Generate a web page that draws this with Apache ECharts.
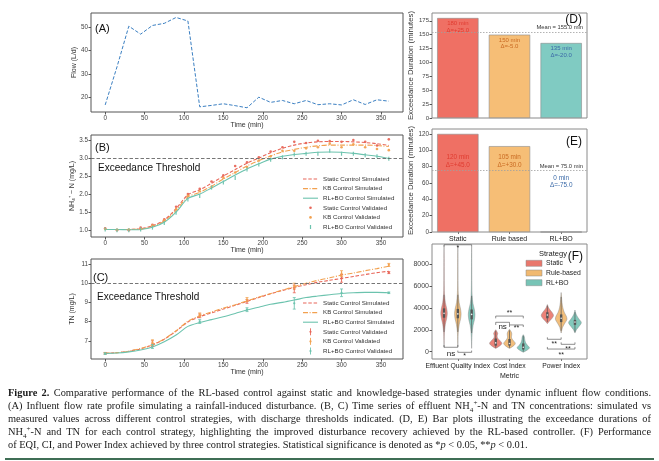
<!DOCTYPE html>
<html><head><meta charset="utf-8">
<script src="https://cdn.jsdelivr.net/npm/echarts@6/dist/echarts.min.js"></script>
<style>
html,body{margin:0;padding:0;background:#fff;}
#chart{position:absolute;left:0;top:0;width:659px;height:461px;}
#caption{position:absolute;left:8px;top:387px;width:643px;font-family:"Liberation Serif","DejaVu Serif",serif;font-size:10.4px;line-height:12.9px;color:#1a1a1a;}
#caption .ln{text-align:justify;text-align-last:justify;white-space:nowrap;height:12.9px;}
#caption .last{text-align-last:left;}
#caption sub,#caption sup{font-size:68%;line-height:0;}
#rule{position:absolute;left:5px;top:458px;width:649px;height:1.5px;background:#3f6e55;}
</style>
</head><body>
<div id="chart"></div>
<div id="caption">
<div class="ln"><b>Figure 2.</b> Comparative performance of the RL-based control against static and knowledge-based strategies under dynamic influent flow conditions.</div>
<div class="ln">(A) Influent flow rate profile simulating a rainfall-induced disturbance. (B, C) Time series of effluent NH<sub>4</sub><sup>+</sup>-N and TN concentrations: simulated vs</div>
<div class="ln">measured values across different control strategies, with discharge thresholds indicated. (D, E) Bar plots illustrating the exceedance durations of</div>
<div class="ln">NH<sub>4</sub><sup>+</sup>-N and TN for each control strategy, highlighting the improved disturbance recovery achieved by the RL-based controller. (F) Performance</div>
<div class="ln last">of EQI, CI, and Power Index achieved by three control strategies. Statistical significance is denoted as *<i>p</i> &lt; 0.05, **<i>p</i> &lt; 0.01.</div>
</div>
<div id="rule"></div>
<script>
// ---------------- DATA ----------------
const times = [0,15,30,45,60,75,90,105,120,135,150,165,180,195,210,225,240,255,270,285,300,315,330,345,360];
const timeTicks = [0,50,100,150,200,250,300,350];
const flow = [16.8,33.0,50.3,46.9,50.6,51.5,54.0,52.5,16.0,16.6,17.3,16.5,15.6,20.1,17.9,18.7,17.3,18.7,16.9,17.3,16.8,19.0,17.0,19.0,18.4];

const nhStaticSim = [1.02,1.02,1.02,1.04,1.12,1.28,1.60,1.98,2.12,2.30,2.50,2.68,2.86,3.00,3.15,3.27,3.36,3.42,3.45,3.46,3.46,3.45,3.43,3.40,3.35];
const nhKbSim     = [1.02,1.02,1.02,1.03,1.10,1.25,1.55,1.92,2.05,2.22,2.42,2.60,2.78,2.93,3.06,3.17,3.24,3.30,3.34,3.36,3.36,3.36,3.36,3.35,3.32];
const nhRlSim     = [1.02,1.02,1.01,1.02,1.08,1.22,1.50,1.88,2.00,2.17,2.35,2.53,2.70,2.84,2.97,3.05,3.10,3.13,3.16,3.17,3.16,3.13,3.09,3.05,2.99];
const nhStaticVal = [1.05,1.00,1.00,1.07,1.15,1.30,1.65,2.00,2.15,2.35,2.52,2.78,2.88,3.02,3.18,3.30,3.45,3.42,3.48,3.47,3.45,3.50,3.45,3.35,3.52];
const nhKbVal     = [1.03,1.01,1.02,1.03,1.13,1.27,1.58,1.95,2.08,2.20,2.45,2.60,2.75,2.93,3.05,3.20,3.20,3.27,3.30,3.40,3.30,3.38,3.30,3.25,3.22];
const nhRlVal     = [1.02,1.00,1.00,1.02,1.07,1.20,1.48,1.85,1.95,2.18,2.32,2.45,2.68,2.82,2.95,3.02,3.10,3.12,3.12,3.20,3.12,3.12,3.08,3.05,2.98];
const nhThreshold = 3.0;
const nhTicks = [1.0,1.5,2.0,2.5,3.0,3.5];

const tnStaticSim = [6.35,6.38,6.45,6.58,6.78,7.08,7.50,7.98,8.25,8.45,8.65,8.85,9.05,9.25,9.45,9.62,9.78,9.92,10.05,10.15,10.25,10.35,10.45,10.55,10.62];
const tnKbSim     = [6.35,6.38,6.46,6.60,6.80,7.10,7.52,8.02,8.30,8.50,8.70,8.88,9.08,9.28,9.46,9.64,9.82,10.00,10.15,10.28,10.42,10.53,10.65,10.76,10.88];
const tnRlSim     = [6.34,6.36,6.42,6.52,6.68,6.95,7.30,7.75,7.95,8.10,8.25,8.42,8.60,8.75,8.90,9.00,9.12,9.25,9.33,9.40,9.46,9.50,9.52,9.52,9.50];
const tnValTimes  = [0,60,120,180,240,300,360];
const tnStaticVal = [6.35,6.85,8.30,9.05,9.70,10.25,10.55];
const tnStaticErr = [0.04,0.15,0.10,0.10,0.20,0.20,0.05];
const tnKbVal     = [6.35,6.90,8.35,9.15,9.85,10.50,10.95];
const tnKbErr     = [0.04,0.15,0.10,0.10,0.15,0.15,0.08];
const tnRlVal     = [6.33,6.70,8.00,8.62,8.95,9.50,9.50];
const tnRlErr     = [0.04,0.10,0.10,0.10,0.30,0.20,0.04];
const tnThreshold = 10.0;
const tnTicks = [7,8,9,10,11];

const strategies = ['Static','Rule based','RL+BO'];
const nhExceed = [180,150,135];
const tnExceed = [120,105,0];
const dTicks = [0,25,50,75,100,125,150,175];
const eTicks = [0,20,40,60,80,100,120];

const metrics = ['Effluent Quality Index','Cost Index','Power Index'];
const strategyLegend = ['Static','Rule-based','RL+BO'];
const fTicks = [0,2000,4000,6000,8000];
// violin density profiles: [value, relative density]
const violinProfiles = [
  [ // Effluent Quality Index
    [[400,0],[1000,0.02],[1800,0.06],[2500,0.18],[3000,0.35],[3500,0.45],[4000,0.35],[4500,0.18],[5200,0.07],[6000,0.035],[7000,0.025],[8500,0.018],[9700,0]],
    [[450,0],[1000,0.02],[1800,0.06],[2500,0.2],[3000,0.38],[3500,0.45],[4000,0.34],[4500,0.17],[5200,0.07],[6000,0.035],[7000,0.025],[8500,0.018],[9650,0]],
    [[300,0],[900,0.02],[1700,0.07],[2400,0.2],[2900,0.38],[3400,0.46],[3900,0.36],[4400,0.18],[5100,0.07],[6000,0.035],[7000,0.025],[8500,0.018],[9600,0]]
  ],
  [ // Cost Index
    [[300,0],[500,0.5],[750,0.85],[1000,0.6],[1250,0.25],[1450,0.2],[1650,0.28],[1850,0.15],[2000,0]],
    [[300,0],[500,0.5],[750,0.8],[1000,0.55],[1250,0.28],[1500,0.3],[1700,0.3],[1900,0.15],[2050,0]],
    [[-50,0],[150,0.55],[350,0.85],[600,0.55],[850,0.3],[1100,0.2],[1350,0.15],[1550,0]]
  ],
  [ // Power Index
    [[2550,0],[2800,0.3],[3050,0.65],[3300,0.85],[3550,0.68],[3800,0.38],[4050,0.14],[4300,0]],
    [[1700,0],[2200,0.18],[2600,0.5],[2950,0.8],[3250,0.7],[3600,0.42],[4000,0.23],[4500,0.11],[5000,0.045],[5400,0]],
    [[1700,0],[2000,0.2],[2300,0.55],[2650,0.88],[2950,0.58],[3250,0.28],[3500,0.11],[3800,0]]
  ]
];
// inner box stats: [whisker low, q1, median, q3, whisker high]
const violinStats = [
  [[1800,3100,3500,3950,5200],[1800,3050,3450,3900,5200],[1700,2950,3400,3850,5100]],
  [[350,550,800,1200,1900],[350,550,750,1150,1950],[0,200,400,750,1450]],
  [[2700,3050,3350,3600,4200],[1900,2700,3050,3400,5000],[1800,2450,2700,2900,3600]]
];
// significance: [metric, hueA, hueB, lineValue, tickEndValue, labelValue, text]
const significance = [
  [0,0,2,9760,9600,9420,'*'],
  [0,0,1,400,600,-160,'ns'],
  [0,1,2,-60,100,-420,'*'],
  [1,0,2,3250,3040,3480,'**'],
  [1,0,1,2680,2440,2260,'ns'],
  [1,1,2,2440,2250,2180,'**'],
  [2,0,1,1130,1310,730,'**'],
  [2,1,2,670,850,270,'**'],
  [2,0,2,240,430,-280,'**']
];

// ---------------- STYLE ----------------
const FONT = '"Liberation Sans", Arial, sans-serif';
const lineColors = ['#E8675A','#F2A14F','#6CC3AE'];
const barColors = ['#EF7064','#F6BE76','#80CBC2'];
const violinColors = ['#E9776C','#F1B970','#77C4B6'];
const labelColors = ['#E03B30','#C96A22','#3B6AA8'];
const hueOffsets = [-0.267,0,0.267];
const simNames = ['Static Control Simulated','KB Control Simulated','RL+BO Control Simulated'];
const valNames = ['Static Control Validated','KB Control Validated','RL+BO Control Validated'];
const dashes = [[3.5,1.8],[5,1.6,1,1.6],null];

const zip = (xs, ys) => xs.map((x,i)=>[x, ys[i]]);
const mean = a => a.reduce((s,v)=>s+v,0)/a.length;

const grids = [
  {left:91, top:13, width:312, height:99},
  {left:91, top:135, width:312, height:102},
  {left:91, top:259, width:312, height:100},
  {left:432, top:13, width:155, height:105},
  {left:432, top:129, width:155, height:103},
  {left:432, top:244, width:155, height:115}
].map((g,i)=>Object.assign({show:true, borderColor: i<3 ? '#555' : '#8a8a8a', borderWidth:1, backgroundColor:'transparent'}, g));

const tickLabel = {fontSize:6.3, color:'#444', fontFamily:FONT, margin:3, hideOverlap:false};
const noLine = {show:false, onZero:false};
function timeAxis(gi){
  return {gridIndex:gi, type:'value', min:-18, max:378,
    axisLine:noLine, splitLine:{show:false},
    axisTick:{show:true, customValues:timeTicks, length:2.5, lineStyle:{color:'#555'}},
    axisLabel:Object.assign({customValues:timeTicks}, tickLabel),
    name:'Time (min)', nameLocation:'middle', nameGap:10,
    nameTextStyle:{fontSize:7, color:'#333', fontFamily:FONT}};
}
function valAxis(gi, min, max, ticks, name, gap, fmt){
  return {gridIndex:gi, type:'value', min:min, max:max,
    axisLine:noLine, splitLine:{show:false},
    axisTick:{show:true, customValues:ticks, length:2.5, lineStyle:{color:'#555'}},
    axisLabel:Object.assign({customValues:ticks, formatter:fmt||(v=>String(v))}, tickLabel),
    name:name, nameLocation:'middle', nameGap:gap, nameRotate:90,
    nameTextStyle:{fontSize:7, color:'#333', fontFamily:FONT}};
}

const xAxes = [
  timeAxis(0), timeAxis(1), timeAxis(2),
  {gridIndex:3, type:'category', data:strategies, axisLine:noLine, axisTick:{show:false}, axisLabel:{show:false}},
  {gridIndex:4, type:'category', data:strategies, axisLine:noLine,
    axisTick:{show:true, alignWithLabel:true, length:2, lineStyle:{color:'#777'}},
    axisLabel:{fontSize:7, color:'#222', fontFamily:FONT, margin:4, hideOverlap:false}},
  {gridIndex:5, type:'value', min:-0.5, max:2.5, axisLine:noLine, splitLine:{show:false},
    axisTick:{show:true, customValues:[0,1,2], length:2, lineStyle:{color:'#777'}},
    axisLabel:{customValues:[0,1,2], formatter:v=>metrics[Math.round(v)], fontSize:6.8, color:'#222', fontFamily:FONT, margin:4, hideOverlap:false, showMinLabel:true, showMaxLabel:true},
    name:'Metric', nameLocation:'middle', nameGap:14, nameTextStyle:{fontSize:7, color:'#222', fontFamily:FONT}}
];
const yAxes = [
  valAxis(0, 13.8, 55.9, [20,30,40,50], 'Flow (L/d)', 13),
  valAxis(1, 0.81, 3.64, nhTicks, 'NH\u2084\u207A \u2212 N (mg/L)', 15, v=>v.toFixed(1)),
  valAxis(2, 6.05, 11.26, tnTicks, 'TN (mg/L)', 15),
  valAxis(3, 0, 189, dTicks, 'Exceedance Duration (minutes)', 15),
  valAxis(4, 0, 126, eTicks, 'Exceedance Duration (minutes)', 17),
  valAxis(5, -670, 9830, fTicks, '', 10)
];
yAxes[3].axisLabel.fontSize = 6; yAxes[4].axisLabel.fontSize = 6.3; yAxes[5].axisLabel.fontSize = 7;
yAxes[3].nameTextStyle.fontSize = 7.8; yAxes[4].nameTextStyle.fontSize = 7.8;

const series = [];
// A
series.push({type:'line', xAxisIndex:0, yAxisIndex:0, data:zip(times, flow), symbol:'none',
  lineStyle:{color:'#3b7fc2', width:1, type:[3.5,1.8]}});
// B
const nhSims = [nhStaticSim, nhKbSim, nhRlSim], nhVals = [nhStaticVal, nhKbVal, nhRlVal];
nhSims.forEach((d,i)=>{
  const s = {type:'line', name:simNames[i], xAxisIndex:1, yAxisIndex:1, data:zip(times,d), symbol:'none', smooth:0.3,
    lineStyle:{color:lineColors[i], width:1.1, type: dashes[i] || 'solid'}, z:3};
  if(i===0) s.markLine = {silent:true, symbol:'none', label:{show:false},
    lineStyle:{color:'#666', width:0.9, type:[3.5,2]}, data:[{yAxis:nhThreshold}]};
  series.push(s);
});
nhVals.forEach((d,i)=>series.push({type:'scatter', name:valNames[i], xAxisIndex:1, yAxisIndex:1, data:zip(times,d),
  symbolSize: i===2 ? [1.2,4] : 2.6, symbol: i===2 ? 'rect' : 'circle', itemStyle:{color:lineColors[i], opacity:0.95}, z:4}));
// C
const tnSims = [tnStaticSim, tnKbSim, tnRlSim];
const tnVals = [tnStaticVal, tnKbVal, tnRlVal], tnErrs = [tnStaticErr, tnKbErr, tnRlErr];
tnSims.forEach((d,i)=>{
  const s = {type:'line', name:simNames[i], xAxisIndex:2, yAxisIndex:2, data:zip(times,d), symbol:'none', smooth:0.3,
    lineStyle:{color:lineColors[i], width:1.1, type: dashes[i] || 'solid'}, z:3};
  if(i===0) s.markLine = {silent:true, symbol:'none', label:{show:false},
    lineStyle:{color:'#666', width:0.9, type:[3.5,2]}, data:[{yAxis:tnThreshold}]};
  series.push(s);
});
tnVals.forEach((d,i)=>series.push({type:'custom', name:valNames[i], xAxisIndex:2, yAxisIndex:2,
  data: tnValTimes.map((t,k)=>[t, d[k], tnErrs[i][k]]),
  renderItem:(params, api)=>{
    const t = api.value(0), v = api.value(1), e = api.value(2);
    const lo = api.coord([t, v-e]), hi = api.coord([t, v+e]), c = api.coord([t, v]);
    const col = lineColors[i];
    return {type:'group', children:[
      {type:'line', shape:{x1:lo[0],y1:lo[1],x2:hi[0],y2:hi[1]}, style:{stroke:col, lineWidth:0.9}},
      {type:'line', shape:{x1:lo[0]-1.5,y1:lo[1],x2:lo[0]+1.5,y2:lo[1]}, style:{stroke:col, lineWidth:0.8}},
      {type:'line', shape:{x1:hi[0]-1.5,y1:hi[1],x2:hi[0]+1.5,y2:hi[1]}, style:{stroke:col, lineWidth:0.8}},
      {type:'circle', shape:{cx:c[0], cy:c[1], r:1.1}, style:{fill:col}}
    ]};
  }, z:4}));
// D & E bars
function barSeries(gi, vals, withInsideLabels){
  const m = mean(vals);
  return {type:'bar', xAxisIndex:gi, yAxisIndex:gi, barWidth:'80%',
    data: vals.map((v,i)=>({value:v, itemStyle:{color:barColors[i], borderColor:'#8c8c8c', borderWidth:0.6},
      label:{show:withInsideLabels, color:labelColors[i]}})),
    label:{position:'insideTop', distance:2, fontSize:6, lineHeight:6.6, fontFamily:FONT,
      formatter:p=>`${p.value} min\n\u0394=${p.value-m>=0?'+':''}${(p.value-m).toFixed(1)}`},
    markLine:{silent:true, symbol:'none', lineStyle:{color:'#a0a0a0', width:0.8, type:[1.5,1.5]},
      label:{show:true, position:'insideEndTop', distance:[4,1.5], fontSize:5.8, color:'#333', fontFamily:FONT,
        formatter:`Mean = ${m.toFixed(1)} min`},
      data:[{yAxis:m}]}};
}
series.push(barSeries(3, nhExceed, true));
series.push(barSeries(4, tnExceed, false));
// E labels: positioned relative to tallest bar (or mean for empty bars)
(function(){
  const m = mean(tnExceed), mx = Math.max(...tnExceed);
  series.push({type:'custom', xAxisIndex:4, yAxisIndex:4, data: tnExceed.map((v,i)=>[i, v]),
    renderItem:(params, api)=>{
      const i = api.value(0), v = api.value(1);
      const at = v > 0 ? mx*0.72 : m*0.82;
      const p = api.coord([i, at]);
      const d = v - m;
      return {type:'text', style:{text:`${v} min\n\u0394=${d>=0?'+':''}${d.toFixed(1)}`, x:p[0], y:p[1],
        textAlign:'center', textVerticalAlign:'middle', fontSize:6.4, lineHeight:7.4, fill:labelColors[i], fontFamily:FONT}};
    }, z:5});
})();
// F violins
[0,1,2].forEach(h=>{
  series.push({type:'custom', name:strategyLegend[h], xAxisIndex:5, yAxisIndex:5,
    data: metrics.map((m,c)=>[c, h]),
    renderItem:(params, api)=>{
      const c = api.value(0), hh = api.value(1);
      const prof = violinProfiles[c][hh], st = violinStats[c][hh];
      const xc = c + hueOffsets[hh], W = 0.14;
      const right = prof.map(p=>api.coord([xc + p[1]*W, p[0]]));
      const left = prof.slice().reverse().map(p=>api.coord([xc - p[1]*W, p[0]]));
      const w0 = api.coord([xc, st[0]]), q1 = api.coord([xc, st[1]]), md = api.coord([xc, st[2]]),
            q3 = api.coord([xc, st[3]]), w1 = api.coord([xc, st[4]]);
      return {type:'group', children:[
        {type:'polygon', shape:{points:right.concat(left), smooth:0.3},
          style:{fill:violinColors[hh], stroke:'#8a8a8a', lineWidth:0.5, opacity:0.92}},
        {type:'line', shape:{x1:w0[0],y1:w0[1],x2:w1[0],y2:w1[1]}, style:{stroke:'#555', lineWidth:0.7}},
        {type:'rect', shape:{x:q1[0]-1.2, y:q3[1], width:2.4, height:q1[1]-q3[1]}, style:{fill:'#555'}},
        {type:'circle', shape:{cx:md[0], cy:md[1], r:0.8}, style:{fill:'#eee'}}
      ]};
    }, z:3});
});
// F significance brackets
series.push({type:'custom', xAxisIndex:5, yAxisIndex:5, data: significance.map((s,i)=>[i]),
  renderItem:(params, api)=>{
    const s = significance[api.value(0)];
    const xa = s[0] + hueOffsets[s[1]], xb = s[0] + hueOffsets[s[2]];
    const a0 = api.coord([xa, s[4]]), a1 = api.coord([xa, s[3]]), b1 = api.coord([xb, s[3]]), b0 = api.coord([xb, s[4]]);
    const t = api.coord([(xa+xb)/2, s[5]]);
    return {type:'group', children:[
      {type:'polyline', shape:{points:[a0,a1,b1,b0]}, style:{stroke:'#444', lineWidth:0.6, fill:null}},
      {type:'text', style:{text:s[6], x:t[0], y:t[1], textAlign:'center', textVerticalAlign:'middle',
        fontSize: s[6]==='ns' ? 8 : 7, fill:'#222', fontFamily:FONT}}
    ]};
  }, z:6});

// ---------------- GRAPHIC TEXT / LEGENDS ----------------
const graphic = [];
function txt(x, y, text, size, align, color){
  graphic.push({type:'text', x:x, y:y, style:{text:text, fontSize:size, fill:color||'#111', fontFamily:FONT,
    textAlign:align||'left', textVerticalAlign:'middle'}, z:100});
}
txt(95, 29, '(A)', 11);
txt(95, 148, '(B)', 11);
txt(98, 168, 'Exceedance Threshold', 10);
txt(93, 278, '(C)', 11);
txt(97, 297, 'Exceedance Threshold', 10);
txt(582, 20, '(D)', 12, 'right');
txt(582, 142, '(E)', 12, 'right');
txt(553, 254, 'Strategy', 7.5, 'center', '#222');
txt(583, 257, '(F)', 12, 'right');

function lineLegend(x0, y0, errMarkers){
  const step = 9.6;
  simNames.forEach((n,i)=>{
    const y = y0 + i*step;
    graphic.push({type:'line', shape:{x1:x0, y1:y, x2:x0+15, y2:y},
      style:{stroke:lineColors[i], lineWidth:1.1, lineDash:dashes[i]||null}, z:100});
    txt(x0+20, y, n, 6.2, 'left', '#333');
  });
  valNames.forEach((n,i)=>{
    const y = y0 + (i+3)*step, cx = x0+7.5;
    if(errMarkers){
      graphic.push({type:'line', shape:{x1:cx, y1:y-3.5, x2:cx, y2:y+3.5}, style:{stroke:lineColors[i], lineWidth:0.9}, z:100});
      graphic.push({type:'circle', shape:{cx:cx, cy:y, r:1.1}, style:{fill:lineColors[i]}, z:100});
    } else if(i===2){
      graphic.push({type:'rect', shape:{x:cx-0.6, y:y-2, width:1.2, height:4}, style:{fill:lineColors[i]}, z:100});
    } else {
      graphic.push({type:'circle', shape:{cx:cx, cy:y, r:1.3}, style:{fill:lineColors[i]}, z:100});
    }
    txt(x0+20, y, n, 6.2, 'left', '#333');
  });
}
lineLegend(303, 179, false);
lineLegend(303, 303, true);

strategyLegend.forEach((n,i)=>{
  const y = 263.3 + i*9.7;
  graphic.push({type:'rect', shape:{x:526, y:y-3, width:16, height:6}, style:{fill:violinColors[i], stroke:'#8a8a8a', lineWidth:0.5}, z:100});
  txt(546, y, n, 6.8, 'left', '#222');
});

const chart = echarts.init(document.getElementById('chart'), null, {renderer:'canvas'});
chart.setOption({
  animation:false,
  backgroundColor:'#fff',
  textStyle:{fontFamily:FONT},
  grid:grids, xAxis:xAxes, yAxis:yAxes, series:series, graphic:graphic
});
</script>
</body></html>
